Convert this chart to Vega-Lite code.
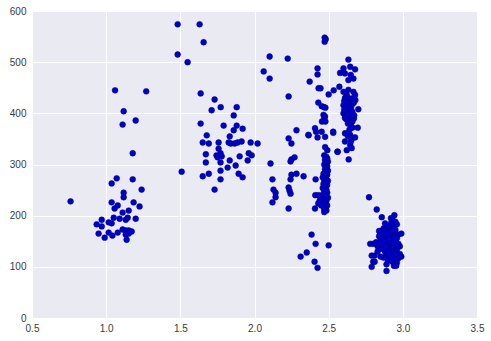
{
  "$schema": "https://vega.github.io/schema/vega-lite/v6.json",
  "width": 445,
  "height": 307,
  "autosize": {"type": "none"},
  "padding": {"left": 32, "top": 11, "right": 14, "bottom": 23},
  "background": "white",
  "config": {
    "view": {"fill": "#EAEAF2", "stroke": null},
    "axis": {
      "domain": false,
      "ticks": false,
      "gridColor": "white",
      "gridWidth": 1,
      "gridOpacity": 1,
      "labelFont": "Liberation Sans",
      "labelFontSize": 10,
      "labelColor": "#3a3a3a",
      "title": null
    }
  },
  "data": {
    "values": [
      {"x":0.76,"y":228},{"x":1.06,"y":445},{"x":1.27,"y":443},{"x":1.118,"y":404},{"x":1.111,"y":378},{"x":1.199,"y":386},{"x":1.179,"y":322},{"x":1.071,"y":273},{"x":1.037,"y":263},{"x":1.179,"y":271},{"x":1.239,"y":251},{"x":1.118,"y":245},{"x":1.118,"y":236},{"x":1.037,"y":226},{"x":1.078,"y":220},{"x":1.185,"y":226},{"x":1.225,"y":218},{"x":1.057,"y":214},{"x":1.152,"y":210},{"x":1.111,"y":206},{"x":1.051,"y":196},{"x":1.091,"y":194},{"x":1.132,"y":192},{"x":1.145,"y":196},{"x":1.199,"y":194},{"x":0.97,"y":192},{"x":1.017,"y":187},{"x":1.037,"y":185},{"x":0.936,"y":183},{"x":0.97,"y":179},{"x":1.111,"y":173},{"x":1.132,"y":171},{"x":1.152,"y":171},{"x":1.172,"y":169},{"x":1.017,"y":167},{"x":1.078,"y":167},{"x":0.949,"y":165},{"x":1.042,"y":161},{"x":0.99,"y":157},{"x":1.132,"y":163},{"x":1.138,"y":153},{"x":1.152,"y":165},
      {"x":1.482,"y":574},{"x":1.63,"y":574},{"x":1.657,"y":539},{"x":1.482,"y":515},{"x":1.549,"y":500},{"x":1.509,"y":286},{"x":1.637,"y":439},{"x":1.731,"y":427},{"x":1.711,"y":406},{"x":1.772,"y":412},{"x":1.88,"y":412},{"x":1.637,"y":380},{"x":1.792,"y":376},{"x":1.86,"y":396},{"x":1.88,"y":376},{"x":1.92,"y":370},{"x":1.86,"y":367},{"x":1.678,"y":357},{"x":1.651,"y":343},{"x":1.692,"y":341},{"x":1.758,"y":343},{"x":1.758,"y":331},{"x":1.833,"y":355},{"x":1.826,"y":343},{"x":1.84,"y":341},{"x":1.866,"y":341},{"x":1.886,"y":343},{"x":1.913,"y":345},{"x":1.974,"y":343},{"x":2.021,"y":341},{"x":1.672,"y":320},{"x":1.744,"y":318},{"x":1.771,"y":322},{"x":1.751,"y":314},{"x":1.779,"y":316},{"x":1.9,"y":316},{"x":1.961,"y":322},{"x":1.981,"y":318},{"x":1.672,"y":304},{"x":1.771,"y":304},{"x":1.833,"y":308},{"x":1.954,"y":308},{"x":1.819,"y":294},{"x":1.873,"y":298},{"x":1.692,"y":282},{"x":1.651,"y":277},{"x":1.771,"y":288},{"x":1.893,"y":282},{"x":1.92,"y":275},{"x":1.771,"y":271},{"x":1.731,"y":251},
      {"x":2.102,"y":511},{"x":2.062,"y":482},{"x":2.102,"y":468},{"x":2.224,"y":507},{"x":2.23,"y":433},{"x":2.108,"y":302},{"x":2.121,"y":271},{"x":2.128,"y":251},{"x":2.142,"y":245},{"x":2.142,"y":236},{"x":2.121,"y":226},{"x":2.23,"y":351},{"x":2.249,"y":341},{"x":2.283,"y":367},{"x":2.365,"y":357},{"x":2.249,"y":310},{"x":2.27,"y":314},{"x":2.243,"y":306},{"x":2.283,"y":282},{"x":2.249,"y":280},{"x":2.331,"y":277},{"x":2.243,"y":271},{"x":2.23,"y":255},{"x":2.236,"y":249},{"x":2.243,"y":243},{"x":2.23,"y":214},
      {"x":2.385,"y":163},{"x":2.412,"y":145},{"x":2.5,"y":142},{"x":2.352,"y":128},{"x":2.311,"y":120},{"x":2.405,"y":110},{"x":2.425,"y":98},
      {"x":2.473,"y":548},{"x":2.48,"y":545},{"x":2.473,"y":540},{"x":2.425,"y":488},{"x":2.425,"y":476},{"x":2.372,"y":462},{"x":2.432,"y":449},{"x":2.445,"y":449},{"x":2.5,"y":437},{"x":2.534,"y":445},{"x":2.43,"y":421},{"x":2.453,"y":414},{"x":2.469,"y":412},{"x":2.478,"y":411},{"x":2.465,"y":397},{"x":2.472,"y":392},{"x":2.468,"y":386},{"x":2.475,"y":394},{"x":2.455,"y":384},{"x":2.478,"y":384},{"x":2.408,"y":371},{"x":2.415,"y":364},{"x":2.363,"y":358},{"x":2.453,"y":364},{"x":2.531,"y":362},{"x":2.476,"y":354},{"x":2.425,"y":353},{"x":2.476,"y":334},{"x":2.491,"y":328},{"x":2.559,"y":325},
      {"x":2.47,"y":318},{"x":2.485,"y":315},{"x":2.49,"y":312},{"x":2.475,"y":309},{"x":2.495,"y":306},{"x":2.48,"y":303},{"x":2.47,"y":300},{"x":2.49,"y":297},{"x":2.485,"y":294},{"x":2.475,"y":291},{"x":2.495,"y":288},{"x":2.48,"y":285},{"x":2.465,"y":282},{"x":2.49,"y":280},{"x":2.475,"y":278},{"x":2.46,"y":275},{"x":2.485,"y":272},{"x":2.47,"y":270},{"x":2.495,"y":268},{"x":2.48,"y":265},{"x":2.465,"y":262},{"x":2.49,"y":260},{"x":2.475,"y":257},{"x":2.46,"y":254},{"x":2.485,"y":251},{"x":2.47,"y":248},{"x":2.49,"y":245},{"x":2.475,"y":242},{"x":2.455,"y":240},{"x":2.48,"y":238},{"x":2.495,"y":235},{"x":2.47,"y":232},{"x":2.485,"y":229},{"x":2.46,"y":226},{"x":2.475,"y":223},{"x":2.49,"y":220},{"x":2.465,"y":218},{"x":2.48,"y":215},{"x":2.47,"y":212},{"x":2.485,"y":210},{"x":2.47,"y":207},
      {"x":2.412,"y":271},{"x":2.41,"y":240},{"x":2.43,"y":240},{"x":2.43,"y":224},{"x":2.408,"y":214},{"x":2.44,"y":230},{"x":2.45,"y":220},
      {"x":2.633,"y":505},{"x":2.6,"y":488},{"x":2.645,"y":491},{"x":2.678,"y":486},{"x":2.577,"y":479},{"x":2.61,"y":478},{"x":2.649,"y":475},{"x":2.667,"y":468},{"x":2.633,"y":465},{"x":2.572,"y":452},{"x":2.6,"y":442},{"x":2.633,"y":446},{"x":2.667,"y":442},{"x":2.622,"y":436},{"x":2.678,"y":436},
      {"x":2.61,"y":430},{"x":2.63,"y":428},{"x":2.65,"y":426},{"x":2.62,"y":422},{"x":2.64,"y":420},{"x":2.66,"y":418},{"x":2.6,"y":416},{"x":2.63,"y":414},{"x":2.65,"y":412},{"x":2.615,"y":410},{"x":2.64,"y":408},{"x":2.7,"y":408},{"x":2.62,"y":404},{"x":2.66,"y":402},{"x":2.6,"y":400},{"x":2.635,"y":398},{"x":2.65,"y":396},{"x":2.615,"y":394},{"x":2.64,"y":392},{"x":2.67,"y":390},{"x":2.62,"y":388},{"x":2.645,"y":386},{"x":2.66,"y":384},{"x":2.63,"y":380},{"x":2.65,"y":376},{"x":2.66,"y":372},{"x":2.696,"y":372},{"x":2.64,"y":368},
      {"x":2.625,"y":432},{"x":2.655,"y":429},{"x":2.605,"y":424},{"x":2.67,"y":421},{"x":2.625,"y":399},{"x":2.655,"y":405},{"x":2.61,"y":391},{"x":2.672,"y":396},{"x":2.605,"y":407},{"x":2.68,"y":426},
      {"x":2.53,"y":364},{"x":2.61,"y":361},{"x":2.645,"y":358},{"x":2.678,"y":353},{"x":2.61,"y":345},{"x":2.645,"y":338},{"x":2.622,"y":328},{"x":2.655,"y":332},{"x":2.561,"y":325},{"x":2.635,"y":310},{"x":2.65,"y":345},{"x":2.63,"y":355},{"x":2.655,"y":350},
      {"x":2.772,"y":236},{"x":2.824,"y":212},{"x":2.858,"y":197},{"x":2.943,"y":201},{"x":2.93,"y":192},{"x":2.95,"y":188},{"x":2.92,"y":185},{"x":2.94,"y":180},{"x":2.96,"y":183},{"x":2.9,"y":178},{"x":2.87,"y":175},{"x":2.93,"y":174},{"x":2.86,"y":170},{"x":2.89,"y":170},{"x":2.95,"y":172},{"x":2.91,"y":166},{"x":2.94,"y":165},{"x":2.87,"y":163},{"x":2.97,"y":163},{"x":2.84,"y":160},{"x":2.9,"y":160},{"x":2.93,"y":158},{"x":2.96,"y":156},{"x":2.88,"y":155},{"x":2.92,"y":152},{"x":2.85,"y":152},{"x":2.99,"y":165},{"x":2.95,"y":150},{"x":2.82,"y":148},{"x":2.89,"y":148},{"x":2.91,"y":145},{"x":2.94,"y":143},{"x":2.87,"y":142},{"x":2.97,"y":145},{"x":2.83,"y":140},{"x":2.9,"y":138},{"x":2.93,"y":136},{"x":2.86,"y":135},{"x":2.96,"y":133},{"x":2.88,"y":130},{"x":2.92,"y":128},{"x":2.95,"y":127},{"x":2.89,"y":124},{"x":2.98,"y":125},{"x":2.91,"y":120},{"x":2.94,"y":118},{"x":2.97,"y":117},{"x":2.87,"y":118},{"x":2.9,"y":112},{"x":2.93,"y":110},{"x":2.96,"y":108},{"x":2.89,"y":105},{"x":2.94,"y":102},{"x":2.955,"y":102},{"x":2.8,"y":145},{"x":2.78,"y":145},{"x":2.79,"y":122},{"x":2.81,"y":122},{"x":2.8,"y":110},{"x":2.79,"y":100},{"x":2.81,"y":110},{"x":2.89,"y":92},{"x":2.85,"y":120},{"x":2.83,"y":130},{"x":2.86,"y":145},{"x":2.88,"y":185},{"x":2.92,"y":195},{"x":2.99,"y":120},{"x":2.98,"y":140},{"x":2.84,"y":170},
      {"x":2.905,"y":153},{"x":2.935,"y":148},{"x":2.875,"y":150},{"x":2.915,"y":132},{"x":2.945,"y":125},{"x":2.905,"y":128},{"x":2.965,"y":140},{"x":2.925,"y":170},{"x":2.885,"y":140},{"x":2.945,"y":158}
    ]
  },
  "mark": {"type": "point", "filled": true, "shape": "circle", "size": 34, "color": "#0000cc", "stroke": "#000070", "strokeWidth": 0.5, "opacity": 1, "clip": true},
  "encoding": {
    "x": {"field": "x", "type": "quantitative", "scale": {"domain": [0.5, 3.5], "nice": false, "zero": false}, "axis": {"values": [0.5, 1.0, 1.5, 2.0, 2.5, 3.0, 3.5], "format": ".1f", "labelPadding": 5, "labelFlush": false}},
    "y": {"field": "y", "type": "quantitative", "scale": {"domain": [0, 600], "nice": false}, "axis": {"values": [0, 100, 200, 300, 400, 500, 600], "labelPadding": 6}}
  }
}
